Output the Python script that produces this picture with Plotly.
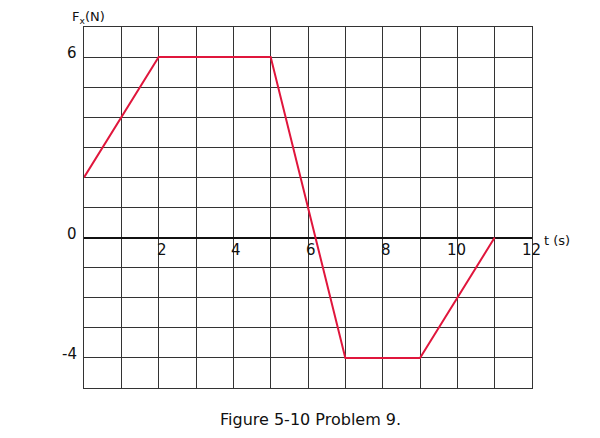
import plotly.graph_objects as go

t_values = [0, 2, 5, 7, 9, 11]
fx_values = [2, 6, 6, -4, -4, 0]
x_tick_labels = [2, 4, 6, 8, 10, 12]
y_tick_labels = [6, 0, -4]

fig = go.Figure()
fig.add_trace(go.Scatter(x=t_values, y=fx_values, mode="lines",
                         line=dict(color="#e0163c", width=2), hoverinfo="skip"))

fam = "DejaVu Sans, Verdana, sans-serif"
font = dict(family=fam, size=15, color="#111")
ann = []
for v in x_tick_labels:
    ann.append(dict(x=v, y=0, xref="x", yref="y", text=str(v), showarrow=False,
                    xanchor="center", yanchor="top", xshift=-1 if v >= 10 else 3, yshift=-1, font=font))
for v in y_tick_labels:
    ann.append(dict(x=0, y=v, xref="x", yref="y", text=str(v), showarrow=False,
                    xanchor="right", yanchor="middle", xshift=-5, yshift=4, font=font))
ann.append(dict(x=0, y=7, xref="x", yref="y", text="F<sub>x</sub>(N)", showarrow=False,
                xanchor="center", yanchor="bottom", xshift=4, yshift=-1,
                font=dict(family=fam, size=13, color="#111")))
ann.append(dict(x=12, y=0, xref="x", yref="y", text="t (s)", showarrow=False,
                xanchor="left", yanchor="middle", xshift=10, yshift=-3,
                font=dict(family=fam, size=13, color="#111")))
ann.append(dict(x=0.5, y=0, xref="paper", yref="paper", text="Figure 5-10 Problem 9.", showarrow=False,
                xanchor="center", yanchor="top", xshift=2, yshift=-20,
                font=dict(family=fam, size=16, color="#111")))

fig.update_layout(
    width=600, height=438,
    margin=dict(l=76, r=76, t=19, b=58, autoexpand=False),
    paper_bgcolor="white", plot_bgcolor="white",
    showlegend=False,
    annotations=ann,
    xaxis=dict(range=[0, 12], dtick=1, tick0=0, showgrid=True, gridcolor="#333", gridwidth=1,
               showticklabels=False, ticks="", zeroline=False,
               showline=True, linecolor="#333", linewidth=1, mirror=True, fixedrange=True),
    yaxis=dict(range=[-5, 7], dtick=1, tick0=0, showgrid=True, gridcolor="#333", gridwidth=1,
               showticklabels=False, ticks="", zeroline=True, zerolinecolor="#111", zerolinewidth=2,
               showline=True, linecolor="#333", linewidth=1, mirror=True, fixedrange=True),
)
fig.write_html("out.html")
